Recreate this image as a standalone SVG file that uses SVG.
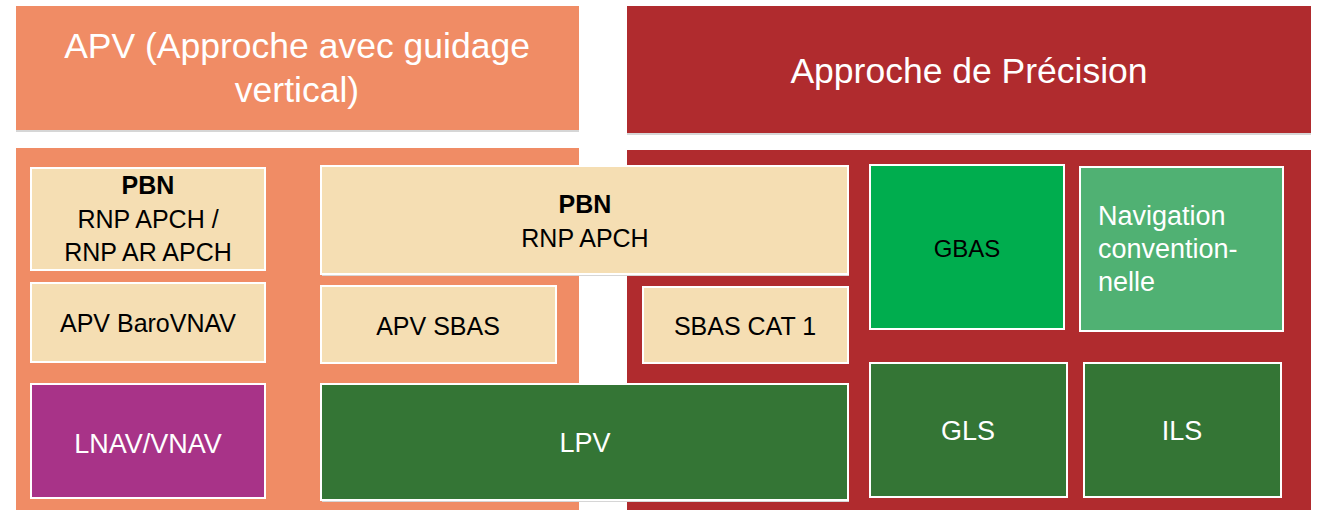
<svg xmlns="http://www.w3.org/2000/svg" width="1317" height="510" viewBox="0 0 1317 510">
<style>
.panel-l{fill:#F08C65}
.panel-r{fill:#B02B2E}
.hdr{font-family:"Liberation Sans",Arial,sans-serif;font-size:35.5px;fill:#fff;text-anchor:middle}
.box{stroke:#fff;stroke-width:2}
.beige{fill:#F5DEB3}
.purple{fill:#A83388}
.dgreen{fill:#347535}
.bgreen{fill:#00AD4E}
.mgreen{fill:#50B173}
.t{font-family:"Liberation Sans",Arial,sans-serif;font-size:25px;fill:#000;text-anchor:middle}
.tw{font-family:"Liberation Sans",Arial,sans-serif;font-size:27px;fill:#fff;text-anchor:middle}
.b{font-weight:bold}
.shadow{fill:#d6d6d6}
</style>
<g id="panels">
  <rect x="16" y="7" width="563" height="125" class="shadow"/>
  <rect id="hdr-apv" x="16" y="6" width="563" height="124" class="panel-l"/>
  <rect x="627" y="7" width="684" height="128" class="shadow"/>
  <rect id="hdr-prec" x="627" y="6" width="684" height="127" class="panel-r"/>
  <rect id="panel-apv" x="16" y="148" width="563" height="362" class="panel-l"/>
  <rect id="panel-prec" x="627" y="150" width="684" height="360" class="panel-r"/>
</g>
<g id="header-apv">
  <text class="hdr" x="297" y="58">APV (Approche avec guidage</text>
  <text class="hdr" x="297" y="102">vertical)</text>
</g>
<g id="header-prec">
  <text class="hdr" x="969" y="83">Approche de Précision</text>
</g>
<g id="connectors"></g>
<g id="pbn-small">
  <rect x="31" y="168" width="234" height="102" class="box beige"/>
  <text class="t b" x="148" y="194">PBN</text>
  <text class="t" x="148" y="228">RNP APCH /</text>
  <text class="t" x="148" y="261">RNP AR APCH</text>
</g>
<g id="apv-barovnav">
  <rect x="31" y="283" width="234" height="79" class="box beige"/>
  <text class="t" x="148" y="332">APV BaroVNAV</text>
</g>
<g id="lnav-vnav">
  <rect x="31" y="384" width="234" height="114" class="box purple"/>
  <text class="tw" x="148" y="453">LNAV/VNAV</text>
</g>
<g id="pbn-big">
  <rect x="322" y="168" width="527" height="108" class="shadow"/>
  <rect x="321" y="166" width="527" height="108" class="box beige"/>
  <text class="t b" x="585" y="213">PBN</text>
  <text class="t" x="585" y="247">RNP APCH</text>
</g>
<g id="apv-sbas">
  <rect x="321" y="286" width="235" height="77" class="box beige"/>
  <text class="t" x="438" y="335">APV SBAS</text>
</g>
<g id="sbas-cat1">
  <rect x="643" y="287" width="205" height="76" class="box beige"/>
  <text class="t" x="745" y="335">SBAS CAT 1</text>
</g>
<g id="lpv">
  <rect x="322" y="385" width="527" height="117" class="shadow"/>
  <rect x="321" y="384" width="527" height="116" class="box dgreen"/>
  <text class="tw" x="585" y="452">LPV</text>
</g>
<g id="gbas">
  <rect x="870" y="165" width="194" height="164" class="box bgreen"/>
  <text class="t" x="967" y="257" style="font-size:24px">GBAS</text>
</g>
<g id="nav-conv">
  <rect x="1080" y="167" width="203" height="164" class="box mgreen"/>
  <text class="tw" x="1098" y="225" style="text-anchor:start">Navigation</text>
  <text class="tw" x="1098" y="258" style="text-anchor:start">convention-</text>
  <text class="tw" x="1098" y="291" style="text-anchor:start">nelle</text>
</g>
<g id="gls">
  <rect x="870" y="363" width="197" height="134" class="box dgreen"/>
  <text class="tw" x="968" y="440">GLS</text>
</g>
<g id="ils">
  <rect x="1084" y="363" width="197" height="134" class="box dgreen"/>
  <text class="tw" x="1182" y="440">ILS</text>
</g>
</svg>
